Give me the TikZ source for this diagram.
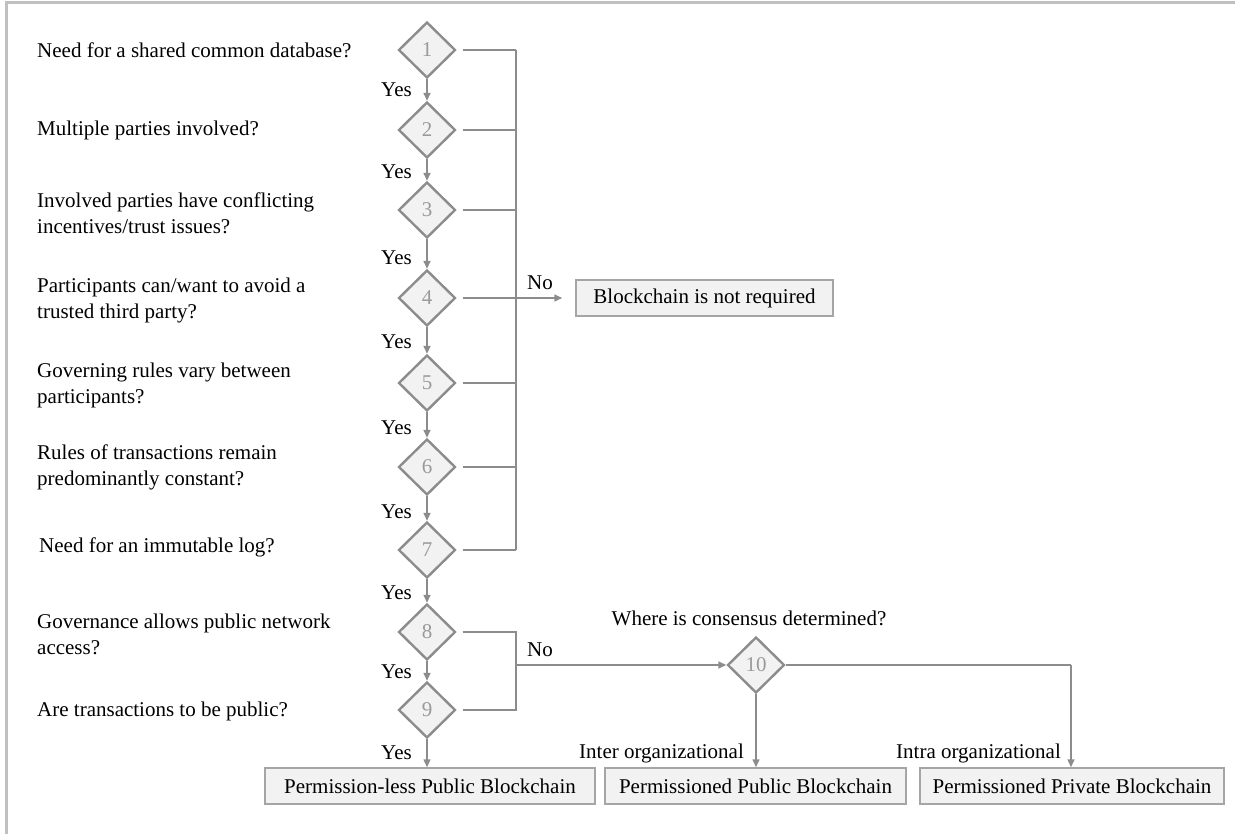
\documentclass[tikz,border=0pt]{standalone}
\usepackage{fontspec}
\setmainfont{Liberation Serif}
\usetikzlibrary{shapes.geometric,arrows.meta}
\definecolor{lineg}{HTML}{8C8C8C}
\definecolor{boxg}{HTML}{A5A5A5}
\definecolor{fillg}{HTML}{F2F2F2}
\definecolor{numg}{HTML}{9A9A9A}
\definecolor{frameg}{HTML}{C0C0C0}
\tikzset{
  txt/.style={font=\fontsize{21}{26}\selectfont, inner sep=0pt, align=left},
  dia/.style={diamond, draw=lineg, line width=2.4pt, fill=fillg, minimum width=57pt, minimum height=56pt, inner sep=0pt, font=\fontsize{21}{22}\selectfont, text=numg},
  outbox/.style={draw=boxg, line width=1.5pt, fill=fillg, minimum height=36pt, inner sep=0pt, font=\fontsize{21}{26}\selectfont},
  conn/.style={draw=lineg, line width=1.5pt},
  arr/.style={conn, -{Triangle[length=8pt,width=7pt]}},
}
\begin{document}
\begin{tikzpicture}[x=1pt,y=-1pt]
\useasboundingbox (0,0) rectangle (1235,834);
% frame
\draw[frameg, line width=3pt] (6,834) -- (6,3) -- (1235,3);

% diamonds
\node[dia] (d1) at (427,50) {1};
\node[dia] (d2) at (427,130) {2};
\node[dia] (d3) at (427,210) {3};
\node[dia] (d4) at (427,298) {4};
\node[dia] (d5) at (427,383) {5};
\node[dia] (d6) at (427,467) {6};
\node[dia] (d7) at (427,550) {7};
\node[dia] (d8) at (427,632) {8};
\node[dia] (d9) at (427,710) {9};
\node[dia] (d10) at (756,665) {10};

% outcome boxes
\node[outbox, minimum width=257pt] (notreq) at (704.5,298) {Blockchain is not required};
\node[outbox, minimum width=330pt] (pless) at (430,786) {Permission-less Public Blockchain};
\node[outbox, minimum width=301pt] (ppub) at (755.5,786) {Permissioned Public Blockchain};
\node[outbox, minimum width=304pt] (ppriv) at (1072,786) {Permissioned Private Blockchain};

% questions
\node[txt, anchor=west] (q1) at (37,50) {Need for a shared common database?};
\node[txt, anchor=west] (q2) at (37,130) {Multiple parties involved?};
\node[txt, anchor=west] (q3) at (37,213) {Involved parties have conflicting\\incentives/trust issues?};
\node[txt, anchor=west] (q4) at (37,300) {Participants can/want to avoid a\\trusted third party?};
\node[txt, anchor=west] (q5) at (37,385) {Governing rules vary between\\participants?};
\node[txt, anchor=west] (q6) at (37,467) {Rules of transactions remain\\predominantly constant?};
\node[txt, anchor=west] (q7) at (39,547) {Need for an immutable log?};
\node[txt, anchor=west] (q8) at (37,634) {Governance allows public network\\access?};
\node[txt, anchor=west] (q9) at (37,711) {Are transactions to be public?};
\node[txt] (q10) at (749,618) {Where is consensus determined?};

% Yes labels and downward arrows
\foreach \a/\b/\y in {d1/d2/90, d2/d3/172, d3/d4/258, d4/d5/342, d5/d6/428, d6/d7/512, d7/d8/593, d8/d9/672}{
  \node[txt, anchor=east] (y\a) at (412,\y) {Yes};
  \draw[arr] (\a.south) -- (\b.north);
}
\node[txt, anchor=east] (yd9) at (412,753) {Yes};
\draw[arr] (d9.south) -- (d9.south |- pless.north);

% No branch, upper
\coordinate (spine) at (516,0);
\foreach \d in {d1,d2,d3,d4,d5,d6,d7}{
  \draw[conn] ([xshift=6pt]\d.east) -- (\d.east -| spine);
}
\draw[conn] (d1.east -| spine) -- (d7.east -| spine);
\draw[arr, shorten >=13pt] (d4.east -| spine) -- (notreq.west);
\node[txt] (no1) at (540,283) {No};

% No branch, lower
\draw[conn] ([xshift=6pt]d8.east) -- (d8.east -| spine) -- (d9.east -| spine) -- ([xshift=6pt]d9.east);
\coordinate (mid) at (516,665);
\draw[arr] (mid) -- (d10.west);
\node[txt] (no2) at (540,650) {No};

% from 10
\draw[arr] (d10.south) -- (d10.south |- ppub.north);
\coordinate (turn) at (1071,665);
\draw[conn] (d10.east) -- (turn);
\draw[arr] (turn) -- (turn |- ppriv.north);
\node[txt, anchor=east] (inter) at (744,753) {Inter organizational};
\node[txt, anchor=east] (intra) at (1061,753) {Intra organizational};
\end{tikzpicture}
\end{document}
